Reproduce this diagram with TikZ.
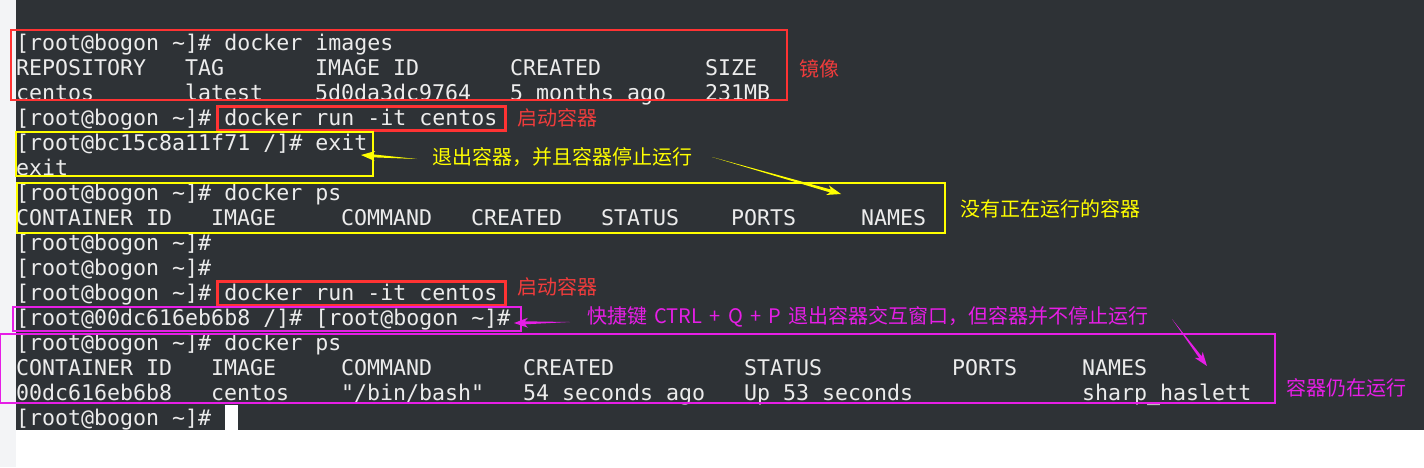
\documentclass[tikz,border=0pt]{standalone}
\usepackage{fontspec}
\newfontfamily\termfont{DejaVu Sans Mono}
\newfontfamily\cjkfont{Noto Sans CJK SC}
\usetikzlibrary{calc}
\definecolor{termbg}{HTML}{2E3236}
\definecolor{termfg}{HTML}{ECECEC}
\definecolor{stripc}{HTML}{F3F4F6}
\definecolor{redc}{HTML}{FF3333}
\definecolor{redt}{HTML}{F03C3C}
\definecolor{yelc}{HTML}{FFFF00}
\definecolor{magc}{HTML}{E61EE6}
\newcommand\taparrow[3]{%
  \fill[#1] (#2) -- ($(#3)!11pt!(#2)!1.5pt!90:(#2)$) -- ($(#3)!14pt!(#2)!5pt!90:(#2)$) -- (#3)
    -- ($(#3)!14pt!(#2)!5pt!-90:(#2)$) -- ($(#3)!11pt!(#2)!1.5pt!-90:(#2)$) -- cycle;}
\begin{document}
\begin{tikzpicture}[x=1pt,y=-1pt,
  term/.style={anchor=base west, inner sep=0pt, text=termfg, font=\termfont\fontsize{21.6pt}{24pt}\selectfont},
  note/.style={anchor=west, inner sep=0pt, font=\cjkfont\fontsize{20pt}{24pt}\selectfont},
  thinbox/.style={line width=1.2pt},
  thickbox/.style={line width=3pt}]
\useasboundingbox (0,0) rectangle (1424,467);
% backgrounds
\fill[white] (0,0) rectangle (1424,467);
\fill[stripc] (0,0) rectangle (16,467);
\fill[termbg] (16,0) rectangle (1424,429.5);
\fill[white] (225,405) rectangle (238,430);

% terminal lines
\node[term] (l1) at (16,50) {[root@bogon \textasciitilde]\# docker images};
\node[term] (l2a) at (16,75) {REPOSITORY};
\node[term] (l2b) at (185,75) {TAG};
\node[term] (l2c) at (315,75) {IMAGE ID};
\node[term] (l2d) at (510,75) {CREATED};
\node[term] (l2e) at (705,75) {SIZE};
\node[term] (l3a) at (16,100) {centos};
\node[term] (l3b) at (185,100) {latest};
\node[term] (l3c) at (315,100) {5d0da3dc9764};
\node[term] (l3d) at (510,100) {5 months ago};
\node[term] (l3e) at (705,100) {231MB};
\node[term] (l4) at (16,125) {[root@bogon \textasciitilde]\# docker run -it centos};
\node[term] (l5) at (16,150) {[root@bc15c8a11f71 /]\# exit};
\node[term] (l6) at (16,175) {exit};
\node[term] (l7) at (16,200) {[root@bogon \textasciitilde]\# docker ps};
\node[term] (l8a) at (16,225) {CONTAINER ID};
\node[term] (l8b) at (211,225) {IMAGE};
\node[term] (l8c) at (341,225) {COMMAND};
\node[term] (l8d) at (471,225) {CREATED};
\node[term] (l8e) at (601,225) {STATUS};
\node[term] (l8f) at (731,225) {PORTS};
\node[term] (l8g) at (861,225) {NAMES};
\node[term] (l9) at (16,250) {[root@bogon \textasciitilde]\#};
\node[term] (l10) at (16,275) {[root@bogon \textasciitilde]\#};
\node[term] (l11) at (16,300) {[root@bogon \textasciitilde]\# docker run -it centos};
\node[term] (l12) at (16,325) {[root@00dc616eb6b8 /]\# [root@bogon \textasciitilde]\#};
\node[term] (l13) at (16,350) {[root@bogon \textasciitilde]\# docker ps};
\node[term] (l14a) at (16,375) {CONTAINER ID};
\node[term] (l14b) at (211,375) {IMAGE};
\node[term] (l14c) at (341,375) {COMMAND};
\node[term] (l14d) at (523,375) {CREATED};
\node[term] (l14e) at (744,375) {STATUS};
\node[term] (l14f) at (952,375) {PORTS};
\node[term] (l14g) at (1082,375) {NAMES};
\node[term] (l15a) at (16,400) {00dc616eb6b8};
\node[term] (l15b) at (211,400) {centos};
\node[term] (l15c) at (341,400) {\symbol{34}/bin/bash\symbol{34}};
\node[term] (l15d) at (523,400) {54 seconds ago};
\node[term] (l15e) at (744,400) {Up 53 seconds};
\node[term] (l15g) at (1082,400) {sharp\_haslett};
\node[term] (l16) at (16,425) {[root@bogon \textasciitilde]\#};

% boxes
\draw[thinbox, redc] (11,30) rectangle (787,100);
\draw[thickbox, redc] (217,106) rectangle (505,130);
\draw[thinbox, yelc] (16,132) rectangle (373,176);
\draw[thinbox, yelc] (17,183) rectangle (945,233);
\draw[thickbox, redc] (217,281) rectangle (505,305);
\draw[thinbox, magc] (13,307) rectangle (521,331);
\draw[thinbox, magc] (0.6,334) rectangle (1275,403);

% notes
\node[note, text=redt] (n1) at (799,69) {镜像};
\node[note, text=redt] (n2) at (517,118) {启动容器};
\node[note, text=yelc] (n3) at (432,157) {退出容器，并且容器停止运行};
\node[note, text=yelc] (n4) at (960,209) {没有正在运行的容器};
\node[note, text=redt] (n5) at (517,287) {启动容器};
\node[note, text=magc] (n6) at (587,317) {\spaceskip=7.3pt 快捷键 CTRL + Q + P 退出容器交互窗口，但容器并不停止运行};
\node[note, text=magc] (n7) at (1286,388) {容器仍在运行};

% arrows
\coordinate (a1t) at (417,159);
\coordinate (a1h) at (361,155);
\coordinate (a2t) at (712,157);
\coordinate (a2h) at (841,194);
\coordinate (a3t) at (570,322);
\coordinate (a3h) at (514,323);
\coordinate (a4t) at (1172,319);
\coordinate (a4h) at (1207,366);
\taparrow{yelc}{a1t}{a1h}
\taparrow{yelc}{a2t}{a2h}
\taparrow{magc}{a3t}{a3h}
\taparrow{magc}{a4t}{a4h}
\end{tikzpicture}
\end{document}
